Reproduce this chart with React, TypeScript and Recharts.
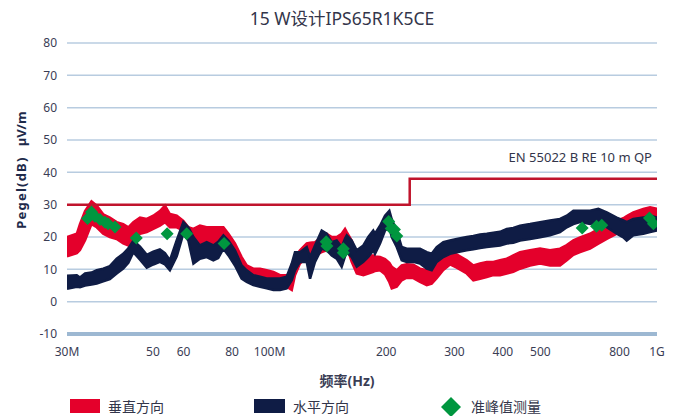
import React from 'react';
import {
  ComposedChart,
  Area,
  Line,
  Scatter,
  XAxis,
  YAxis,
  CartesianGrid,
  ReferenceLine,
} from 'recharts';

// frequency grid in MHz
const freqs = [
  30, 31.8, 32.4, 33.4, 34.7, 35.8, 37.2, 38.7, 40.3, 41.9, 43.2, 44.5, 46.3, 48.2, 50.1, 52.1,
  53.7, 55.3, 57.6, 59.9, 61.7, 63.6, 66.1, 68.8, 71.6, 73.7, 76, 78.3, 81.4, 84.7, 87.3, 90.8,
  94.5, 98.3, 102.3, 106.4, 110.7, 114.1, 116.3, 119.8, 124.7, 127.2, 131, 136.3, 140.4, 144.7,
  149, 153.5, 156.6, 158.2, 162.9, 167.9, 174.6, 179.8, 185.2, 187.1, 192.8, 198.6, 203.8, 206.7,
  212.9, 219.3, 226, 235, 244.5, 254.5, 262.1, 270, 280.8, 292.2, 304.1, 322.8, 335.7, 349.4,
  363.6, 378.1, 393.4, 409.4, 425.7, 443, 470.2, 499, 529.5, 561.9, 584.9, 608.4, 633, 671.6,
  705.7, 741.8, 787.1, 818.7, 835.3, 868.8, 921.9, 959.5, 1000,
];

// 垂直方向 band [low, high] dBµV/m
const verticalBand = [
  [14, 20], [15, 21], [16, 24], [19, 28], [24, 31], [23, 29.7], [21, 27], [20, 26], [19.4, 24.6],
  [18, 24], [17.4, 23], [19.4, 24.6], [21, 26], [21.5, 25.6], [22.5, 26.6], [23.5, 28], [24.6, 29.7],
  [23, 27.1], [23, 26.6], [22, 25], [20, 23], [17.4, 22.5], [18, 23.5], [17.4, 23], [18, 23],
  [18.9, 23], [18.9, 23], [16.9, 21], [13.8, 18], [11.2, 13.8], [7.6, 11.2], [6.1, 10.2], [6.1, 10.2],
  [5.6, 9.7], [5.1, 9.2], [4.6, 8.2], [4.6, 8.2], [3.6, 8.7], [8.2, 13.8], [11.8, 15.9], [13.8, 18],
  [14, 18.2], [14.3, 18.4], [15.3, 20], [15.9, 21], [16.4, 20], [15.9, 20], [16, 21], [18, 22.5],
  [17, 21.5], [12.3, 18.9], [8.7, 14.8], [8.2, 13.8], [8.7, 14.3], [9.2, 14.3], [9.5, 14], [9.7, 13.8],
  [8.5, 13.2], [6, 12], [4.1, 10.8], [4.6, 9.7], [6.6, 11.2], [7.4, 11.6], [7.3, 11.4], [6.1, 10.2],
  [5.1, 9.7], [5.6, 10.4], [7.3, 11.8], [9.8, 13.8], [11.5, 15.2], [10.5, 14.6], [8.7, 12.8],
  [6.6, 11.2], [7.1, 11.8], [7.6, 12.3], [8.2, 12.3], [8.2, 12.8], [8.7, 13.3], [9.2, 14.3],
  [10.2, 15.3], [11.2, 15.9], [11.8, 16.4], [11.2, 15.9], [11.2, 16.4], [12.8, 17.5], [14.5, 19],
  [15.3, 19.9], [16.4, 21], [17.9, 22.5], [19.4, 23], [21, 25.1], [23, 25.8], [24, 26.5],
  [24.6, 27.6], [25.1, 28.7], [25.6, 29.2], [25.1, 28.7],
];

// 水平方向 band [low, high] dBµV/m
const horizontalBand = [
  [4, 8], [4.6, 8.2], [4.5, 7.5], [5, 8.7], [5.3, 9], [5.6, 9.7], [6.3, 10.2], [7, 11], [8.7, 13.3],
  [10.2, 14.8], [12, 16.5], [15.3, 18.9], [13, 17], [10.5, 14.5], [11.5, 15.5], [12.3, 16.2],
  [11.5, 15], [9.7, 12.8], [14, 19], [21, 24.6], [18.9, 23], [11.8, 20], [13.3, 17.4], [13.8, 18.4],
  [12.8, 17.4], [13.5, 18.5], [16.4, 20.5], [14.3, 18.9], [11.2, 15.9], [7.1, 11.2], [6.1, 9.7],
  [5.1, 8.2], [4.6, 7.7], [4.1, 7.2], [3.6, 7.2], [3.6, 7.2], [4.1, 7.7], [6.6, 11.8], [9.7, 15.3],
  [12.3, 15.3], [12.3, 16.9], [7.1, 13.8], [12.3, 17.4], [16.4, 22], [15.9, 21], [14.3, 18.4],
  [13.3, 18.9], [10.8, 16.9], [14, 19.5], [15.3, 20.5], [13.8, 18.9], [10.8, 15.9], [12.3, 17.4],
  [13.8, 20], [15.9, 22], [14.8, 21], [18, 23.5], [22, 26.6], [23, 28.1], [20, 25.5], [16.9, 22],
  [12.8, 16.9], [12.3, 16.4], [12.3, 16.4], [11.8, 16.4], [10.2, 15.3], [9.7, 14.8], [12.3, 16.9],
  [13.8, 18.4], [14.8, 18.9], [15.3, 19.4], [15.9, 20], [16.2, 20.3], [16.6, 20.8], [16.9, 21],
  [17.1, 21.3], [17.4, 21.6], [18, 22.5], [18.2, 22.8], [18.9, 23.5], [19.4, 24], [19.9, 24.6],
  [20.5, 25.1], [21.5, 25.6], [23, 26.6], [24, 28.1], [24.6, 28.1], [24, 28.1], [24.6, 28.7],
  [23, 27.6], [21, 26], [19.9, 25.1], [18.9, 24.6], [20.5, 25.6], [21, 26], [21.5, 26.6], [22, 26],
];

// EN 55022 B RE 10 m QP limit
const limitFreq = [30, 230, 230, 1000];
const limitLevel = [30, 30, 38, 38];

// 准峰值测量
const qpFreq = [
  33.9, 34.7, 35.4, 36.5, 37.6, 38.3, 39.9, 45.3, 54.4, 61.1, 76.3, 140, 140.6, 155, 155,
  203, 206, 210, 213, 641, 698, 720, 956, 979,
];
const qpLevel = [
  25.7, 27.7, 26.4, 25.4, 24.6, 24.1, 23.1, 19.7, 21.0, 21.0, 18.0, 18.5, 17.2, 16.4, 15.1,
  24.8, 22.6, 22.3, 20.3, 22.8, 23.3, 23.6, 25.9, 24.1,
];

const xTicks = [30, 50, 60, 80, 100, 200, 300, 400, 500, 800, 1000];
const yTicks = [-10, 0, 10, 20, 30, 40, 50, 60, 70, 80];

const RED = '#e4002b';
const NAVY = '#0f1c45';
const GREEN = '#00963f';
const LIMIT = '#c0142c';
const TEXT = '#3a3d55';
const FONT = '"Noto Sans", "Noto Sans CJK SC", sans-serif';

const bands = freqs.map((f, i) => ({ f, vertical: verticalBand[i], horizontal: horizontalBand[i] }));
const limitData = limitFreq.map((f, i) => ({ f, limit: limitLevel[i] }));
const qpData = qpFreq.map((f, i) => ({ f, qp: qpLevel[i] }));

const fmtX = (v: number) => (v === 30 ? '30M' : v === 100 ? '100M' : v === 1000 ? '1G' : String(v));

const Diamond = (props: any) => {
  const { cx, cy } = props;
  const s = 6.5;
  return <polygon points={`${cx},${cy - s} ${cx + s},${cy} ${cx},${cy + s} ${cx - s},${cy}`} fill={GREEN} />;
};

export default function App() {
  return (
    <div style={{ position: 'absolute', left: 0, top: 0, width: 680, height: 416, background: '#fff', fontFamily: FONT }}>
      <ComposedChart width={680} height={416} data={bands} margin={{ top: 43, right: 23, bottom: 0, left: 0 }}>
        <CartesianGrid vertical={false} stroke="#b8cce0" strokeWidth={1.5} />
        <ReferenceLine y={-10} stroke="#9db8d2" strokeWidth={4} />
        <XAxis
          dataKey="f"
          type="number"
          scale="log"
          domain={[30, 1000]}
          ticks={xTicks}
          tickFormatter={fmtX}
          allowDataOverflow
          axisLine={false}
          tickLine={false}
          tickMargin={7}
          height={82}
          tick={{ fill: TEXT, fontSize: 12, fontFamily: FONT }}
        />
        <YAxis
          type="number"
          domain={[-10, 80]}
          ticks={yTicks}
          allowDataOverflow
          axisLine={false}
          tickLine={false}
          tickMargin={4}
          width={67}
          tick={{ fill: TEXT, fontSize: 12, fontFamily: FONT }}
        />
        <Area
          dataKey="vertical"
          type="linear"
          stroke={RED}
          strokeWidth={2.5}
          strokeLinejoin="miter"
          fill={RED}
          fillOpacity={1}
          isAnimationActive={false}
        />
        <Area
          dataKey="horizontal"
          type="linear"
          stroke={NAVY}
          strokeWidth={2.5}
          strokeLinejoin="miter"
          fill={NAVY}
          fillOpacity={1}
          isAnimationActive={false}
        />
        <Line
          data={limitData}
          dataKey="limit"
          type="linear"
          stroke={LIMIT}
          strokeWidth={2.5}
          dot={false}
          isAnimationActive={false}
        />
        <Scatter data={qpData} dataKey="qp" shape={<Diamond />} isAnimationActive={false} />
      </ComposedChart>
      <svg width={680} height={416} style={{ position: 'absolute', left: 0, top: 0, pointerEvents: 'none' }}>
        <text x={342} y={25} textAnchor="middle" fontSize={17.5} fill="#33354a" fontFamily={FONT}>
          15 W设计IPS65R1K5CE
        </text>
        <text x={652} y={162} textAnchor="end" fontSize={13} fill="#33354a" fontFamily={FONT}>
          EN 55022 B RE 10 m QP
        </text>
        <g transform="rotate(-90, 21, 170)">
          <text x={21} y={175} textAnchor="middle" fontSize={13} fontWeight="bold" fill="#1e2a4a" fontFamily={FONT}>
            <tspan letterSpacing={1.2}>Pegel(dB)</tspan>
            <tspan>{'\u00a0\u00a0\u00a0µV/m'}</tspan>
          </text>
        </g>
        <text x={347} y={386} textAnchor="middle" fontSize={14} fontWeight="bold" fill="#3a3d55" fontFamily={FONT}>
          频率(Hz)
        </text>
        <rect x={70} y={399} width={30} height={14} fill={RED} />
        <text x={108} y={412} fontSize={14} fill="#33354a" fontFamily={FONT}>垂直方向</text>
        <rect x={254} y={399} width={31} height={14} fill={NAVY} />
        <text x={293} y={412} fontSize={14} fill="#33354a" fontFamily={FONT}>水平方向</text>
        <polygon points="451,397 461,407 451,417 441,407" fill={GREEN} />
        <text x={471} y={412} fontSize={14} fill="#33354a" fontFamily={FONT}>准峰值测量</text>
      </svg>
    </div>
  );
}
